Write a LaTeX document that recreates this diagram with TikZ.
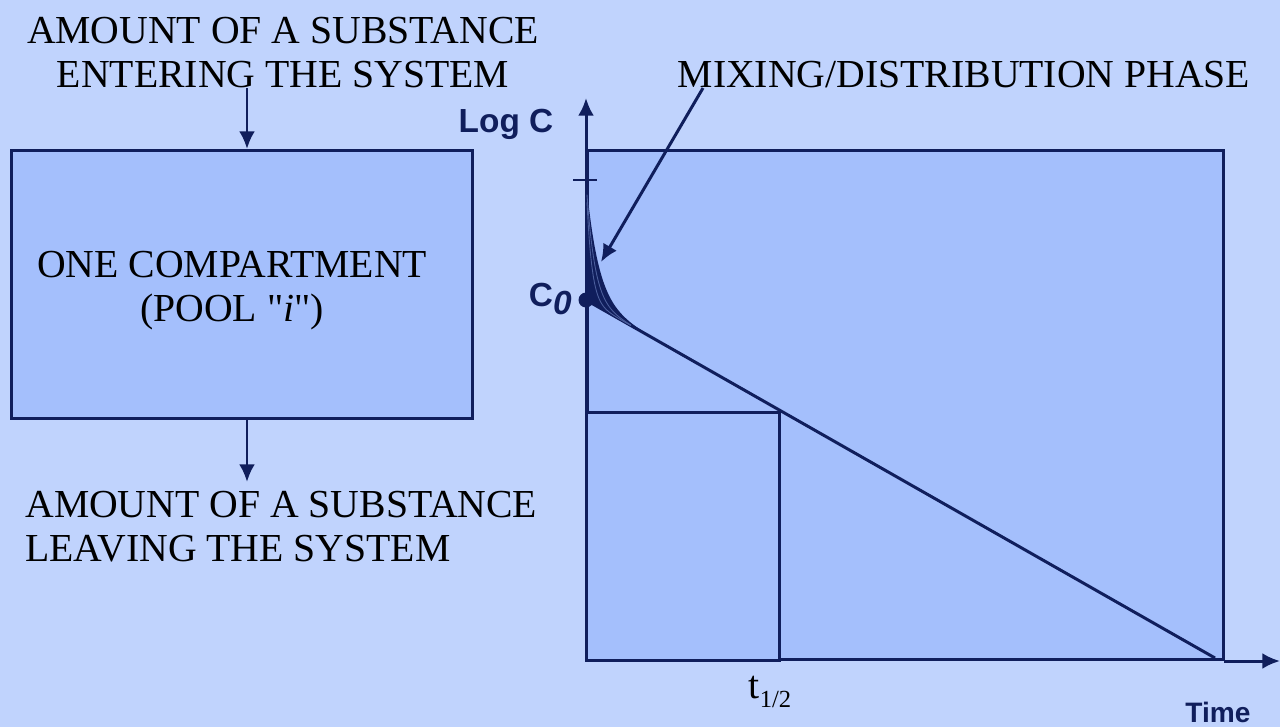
\documentclass[tikz,border=0pt]{standalone}
\usepackage{fontspec}
\setmainfont{Liberation Serif}
\newfontfamily\arialfont{Liberation Sans}
\usetikzlibrary{arrows.meta}
\definecolor{navy}{RGB}{16,30,92}
\definecolor{bgblue}{RGB}{192,211,253}
\definecolor{poolblue}{RGB}{164,191,252}

\begin{document}
\begin{tikzpicture}[x=0.02cm, y=-0.02cm, >={Latex[length=10pt,width=9pt]},
    line/.style={draw=navy, line width=1.7pt},
    box/.style={rectangle, draw=navy, line width=1.7pt, fill=poolblue, inner sep=0pt},
    label/.style={font=\fontsize{22.6}{25}\selectfont, inner sep=0pt},
    axislabel/.style={font=\arialfont\bfseries\fontsize{19}{22}\selectfont, text=navy, inner sep=0pt}]
    \fill[bgblue] (0,0) rectangle (1280,727);
    \useasboundingbox (0,0) rectangle (1280,727);

    % the pool
    \node[box, anchor=north west, minimum width=9.22cm, minimum height=5.36cm] (pool) at (10,149) {};
    \node[label, align=center] (pooltext) at (232,291) {ONE COMPARTMENT\\(POOL \textquotedbl\textit{i}\textquotedbl)};
    \node[label, align=center] (entering) at (283,53) {AMOUNT OF A SUBSTANCE\\ENTERING THE SYSTEM};
    \node[label, align=left, anchor=west] (leaving) at (25,527) {AMOUNT OF A SUBSTANCE\\LEAVING THE SYSTEM};
    \coordinate (intail) at (247,88);
    \coordinate (outtip) at (247,482);
    \draw[line, ->] (intail) -- (intail |- pool.north);
    \draw[line, ->] (outtip |- pool.south) -- (outtip);

    % the plot
    \node[box, anchor=north west, minimum width=12.72cm, minimum height=10.18cm] (graph) at (586,149) {};
    \draw[line, fill=poolblue] (graph.south west) rectangle (779,412);
    \coordinate (ytop) at (586,98);
    \coordinate (xstart) at (1224,661);
    \coordinate (xend) at (1280,661);
    \draw[line, ->] (graph.south west) -- (ytop);
    \draw[line, ->] (xstart) -- (xend);
    \draw[line] (573,180) -- (597,180);

    \coordinate (c0) at (586,300);
    \coordinate (tend) at (1215,658);
    \draw[line] (c0) -- (tend);
    \fill[navy] (586,180) -- plot[domain=0:60, samples=80] ({586+\x},{300+0.569*\x-120*exp(-\x/12)}) -- (c0) -- cycle;
    \foreach \k in {5,8}
        \draw[navy!60!poolblue, line width=0.5pt] plot[domain=1:45, samples=60] ({586+\x},{300+0.569*\x-120*exp(-\x/\k)});
    \fill[navy] (c0) circle (0.15cm);

    \node[label] (mixing) at (964,75) {MIXING/DISTRIBUTION PHASE};
    \coordinate (mixtail) at (703,88);
    \coordinate (mixtip) at (601,262);
    \draw[line, ->] (mixtail) -- (mixtip);

    \node[axislabel] (logc) at (506,124) {Log C};
    \node[axislabel, anchor=east] (c0label) at (572,299) {C\raisebox{-0.4ex}{\itshape 0}};
    \node[label] (thalf) at (770,692) {t\raisebox{-0.45ex}{\fontsize{14}{14}\selectfont 1/2}};
    \node[axislabel, font=\arialfont\bfseries\fontsize{16}{18}\selectfont] (time) at (1218,712) {Time};
\end{tikzpicture}
\end{document}
